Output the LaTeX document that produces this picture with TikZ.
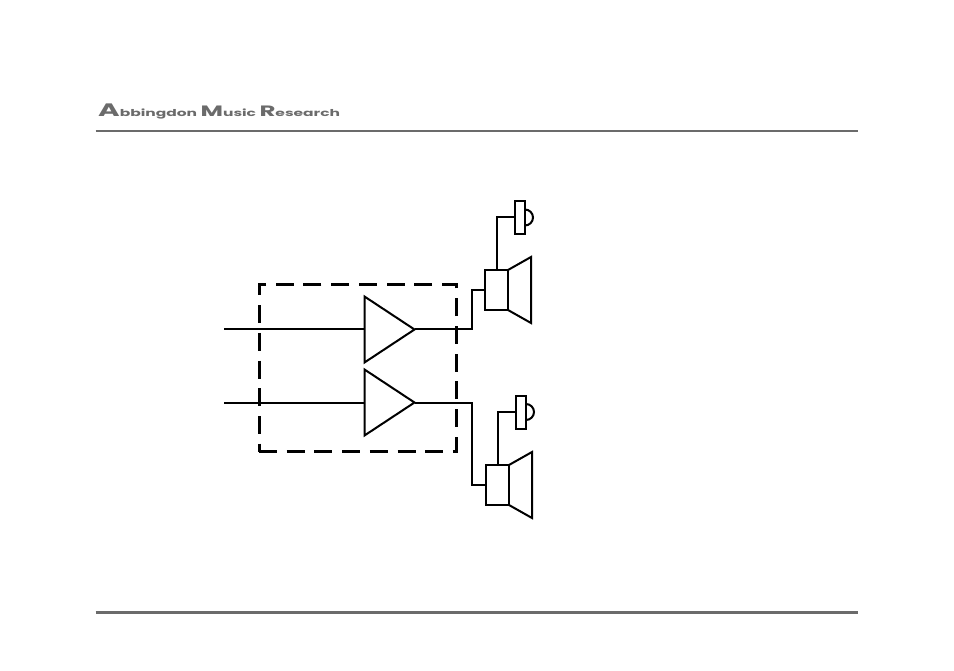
\documentclass[tikz,border=0pt]{standalone}
\usepackage{fontspec}
\usepackage{graphicx}
\newfontfamily\logofont{Poppins}
\usepackage{tikz}
\usetikzlibrary{shapes.geometric,positioning}
\definecolor{rulegray}{gray}{0.42}

\begin{document}
\begin{tikzpicture}[
        x=1pt, y=-1pt,
        wire/.style={line width=2pt, line join=miter},
        amp/.style={isosceles triangle, isosceles triangle stretches, draw, line width=2pt, minimum width=66pt, minimum height=50pt, inner sep=0pt, outer sep=0pt, anchor=lower side},
        driver/.style={rectangle, draw, line width=2pt, minimum width=23pt, minimum height=40pt, inner sep=0pt, outer sep=0pt},
        tweeter/.style={rectangle, draw, line width=2pt, minimum width=10pt, minimum height=33pt, inner sep=0pt, outer sep=0pt},
        enclosure/.style={rectangle, draw, dashed, dash pattern=on 18pt off 9.7pt, line width=3pt, minimum width=197pt, minimum height=167pt, inner sep=0pt, outer sep=0pt},
        rulebar/.style={draw=rulegray}
    ]
        \useasboundingbox (0,0) rectangle (954,671);

        % Header
        \node[anchor=base west, inner sep=0pt, text=rulegray] (logo) at (98,117) {\logofont\bfseries\scalebox{1.63}[1]{{\fontsize{18}{18}\selectfont A}{\fontsize{9.5}{10}\selectfont bbingdon} {\fontsize{15}{15}\selectfont M}{\fontsize{9.5}{10}\selectfont usic} {\fontsize{15}{15}\selectfont R}{\fontsize{9.5}{10}\selectfont esearch}}};
        \coordinate (topl) at (95.5,131.5);
        \coordinate (topr) at (858,131.5);
        \coordinate (botl) at (95.5,612);
        \coordinate (botr) at (858,612);

        % Amplifiers
        \node[enclosure] (box) at (357.5,368) {};
        \node[amp] (amp1) at (364.5,329.5) {};
        \node[amp] (amp2) at (364.5,402.5) {};
        \coordinate (in1) at (224,329.5);
        \coordinate (in2) at (224,402.5);

        % Upper speaker
        \node[driver] (drv1) at (496.5,290) {};
        \node[tweeter] (tw1) at (520,217.5) {};
        \coordinate (j1) at (471.5,310);

        % Lower speaker
        \node[driver] (drv2) at (497.5,485) {};
        \node[tweeter] (tw2) at (521,412) {};
        \coordinate (j2) at (471.5,440);

        % Cones and domes
        \draw[wire] (drv1.north east) -- ++(23,-13) -- ++(0,66) -- (drv1.south east);
        \draw[wire] (drv2.north east) -- ++(23,-13) -- ++(0,66) -- (drv2.south east);
        \draw[wire] (tw1.east) ++(0,-8) arc[start angle=-90, end angle=90, radius=8pt, y radius=-8pt];
        \draw[wire] (tw2.east) ++(0,-8) arc[start angle=-90, end angle=90, radius=8pt, y radius=-8pt];

        % Arrows
        \draw[wire] (in1) -- (amp1.lower side);
        \draw[wire] (in2) -- (amp2.lower side);
        \draw[wire] (amp1.apex) -| (j1) |- (drv1.west);
        \draw[wire] (amp2.apex) -| (j2) |- (drv2.west);
        \draw[wire] (drv1.north) |- (tw1.west);
        \draw[wire] (drv2.north) |- (tw2.west);

        % Rules
        \draw[rulebar, line width=2pt] (topl) -- (topr);
        \draw[rulebar, line width=3pt] (botl) -- (botr);
    \end{tikzpicture}
\end{document}
